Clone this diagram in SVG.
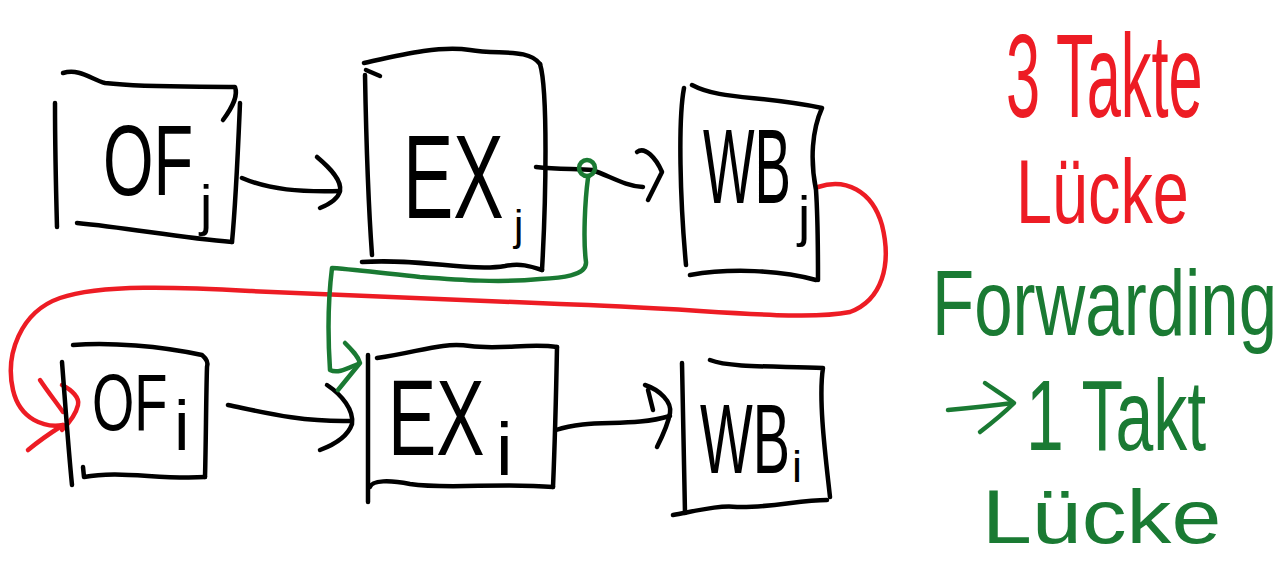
<svg xmlns="http://www.w3.org/2000/svg" width="1282" height="562" viewBox="0 0 1282 562">
<style>
.k{fill:none;stroke:#000;stroke-width:4.5;stroke-linecap:round;stroke-linejoin:round}
.r{fill:none;stroke:#ed1c24;stroke-width:4.5;stroke-linecap:round;stroke-linejoin:round}
.g{fill:none;stroke:#1a7a33;stroke-width:4.5;stroke-linecap:round;stroke-linejoin:round}
text{font-family:"Liberation Sans",Arial,sans-serif;fill:#000}
.rt{fill:#ed1c24}
.gt{fill:#1a7a33}
</style>
<rect width="1282" height="562" fill="#fff"/>

<g id="connectors">
  <!-- OF_j -> EX_j -->
  <path class="k" d="M242,178 C270,190 300,192 340,191"/>
  <path class="k" d="M317,157 C330,168 342,180 340,191 C338,199 330,204 320,208"/>
  <!-- EX_j -> WB_j -->
  <path class="k" d="M536,167 C560,170 580,168 592,170 C610,176 625,186 643,187"/>
  <path class="k" d="M637,152 C645,146 656,158 662,172 L648,200"/>
  <!-- OF_i -> EX_i -->
  <path class="k" d="M228,405 C262,412 300,422 350,421"/>
  <path class="k" d="M327,385 C342,395 354,410 352,424 C348,436 336,444 320,450"/>
  <!-- EX_i -> WB_i -->
  <path class="k" d="M556,430 C590,418 630,428 670,416"/>
  <path class="k" d="M645,385 C660,390 672,402 670,413 C668,425 662,437 657,447"/>
  <path class="k" d="M648,390 L653,410"/>
  <!-- red: WB_j -> OF_i -->
  <path class="r" d="M818,187 C845,178 872,190 882,225 C892,265 882,300 850,312 C800,322 700,308 560,304 C450,300 350,296 250,291 C180,287 100,284 60,298 C20,312 5,355 13,390 C20,420 45,428 63,425"/>
  <path class="r" d="M40,380 C48,392 56,402 63,412"/>
  <path class="r" d="M28,450 C40,440 52,432 63,425"/>
  <path class="r" d="M62,385 C72,390 80,398 78,405 C76,414 70,422 62,430"/>
  <!-- green: forwarding EX_j -> EX_i -->
  <circle class="g" cx="587" cy="168" r="8"/>
  <path class="g" d="M588,178 C585,200 583,240 586,262 C587,276 560,278 540,279 C500,283 460,280 420,277 C390,274 360,270 332,268 C328,300 328,340 330,370 C338,374 348,368 358,364"/>
  <path class="g" d="M345,343 C352,350 358,356 360,363 L338,390"/>
  <!-- green arrow in the note -->
  <path class="g" d="M948,410 C970,408 990,406 1013,403"/>
  <path class="g" d="M985,383 C995,390 1005,396 1014,403 C1005,412 993,422 980,432"/>
</g>

<g id="OFj">
  <path class="k" d="M63,73 C80,68 92,80 105,83 C150,88 200,86 235,87 C238,95 234,105 223,120"/>
  <path class="k" d="M240,103 C238,150 236,200 232,242"/>
  <path class="k" d="M55,103 C55,150 56,190 57,227"/>
  <path class="k" d="M77,223 C130,228 180,238 232,242"/>
  <text transform="translate(103,195) scale(0.65,1)" font-size="100">OF</text>
  <text x="200" y="224" font-size="55">j</text>
</g>

<g id="EXj">
  <path class="k" d="M364,63 C400,55 440,45 470,50 C500,55 528,48 540,64"/>
  <path class="k" d="M366,70 L380,76"/>
  <path class="k" d="M365,75 C366,130 368,200 372,255"/>
  <path class="k" d="M540,64 C548,90 546,200 542,270"/>
  <path class="k" d="M362,262 C420,258 470,272 505,266 C520,263 530,266 542,270"/>
  <text transform="translate(403,218) scale(0.64,1)" font-size="118">EX</text>
  <text x="514" y="240" font-size="42">j</text>
</g>

<g id="WBj">
  <path class="k" d="M684,88 C678,120 680,200 686,265"/>
  <path class="k" d="M692,85 C720,100 760,95 822,108 C812,130 810,160 816,190 C818,220 818,250 818,280"/>
  <path class="k" d="M690,275 C730,268 780,270 816,280"/>
  <text transform="translate(703,203) scale(0.52,1)" font-size="105">WB</text>
  <text x="798" y="235" font-size="55">j</text>
</g>

<g id="OFi">
  <path class="k" d="M62,362 C65,400 68,445 72,485"/>
  <path class="k" d="M73,345 C110,342 160,346 202,355 C208,360 208,364 207,367 C206,400 206,440 205,477"/>
  <path class="k" d="M83,467 L84,477 C120,470 160,480 205,477"/>
  <text transform="translate(92,430) scale(0.68,1)" font-size="80">OF</text>
  <text x="174" y="450" font-size="70">i</text>
</g>

<g id="EXi">
  <path class="k" d="M368,355 L368,502"/>
  <path class="k" d="M377,358 C420,352 440,342 470,346 C500,350 530,343 557,347"/>
  <path class="k" d="M557,347 C556,400 555,440 553,487"/>
  <path class="k" d="M370,487 C372,480 390,480 410,484 C450,490 500,482 553,487"/>
  <text transform="translate(388,455) scale(0.67,1)" font-size="108">EX</text>
  <text x="496" y="475" font-size="75">i</text>
</g>

<g id="WBi">
  <path class="k" d="M682,363 C683,420 684,470 685,513"/>
  <path class="k" d="M710,360 C730,368 780,366 823,368 C818,400 826,460 830,497"/>
  <path class="k" d="M673,515 C700,510 720,505 737,507 C770,508 800,500 827,500"/>
  <text transform="translate(700,473) scale(0.57,1)" font-size="98">WB</text>
  <text x="792" y="482" font-size="45">i</text>
</g>

<g id="note-red">
  <text class="rt" transform="translate(1006,117) scale(0.52,1)" font-size="118">3 Takte</text>
  <text class="rt" transform="translate(1016,223) scale(0.72,1)" font-size="90">Lücke</text>
</g>

<g id="note-green">
  <text class="gt" transform="translate(932,335) scale(0.75,1)" font-size="92">Forwarding</text>
  <text class="gt" transform="translate(1026,450) scale(0.68,1)" font-size="100">1 Takt</text>
  <text class="gt" transform="translate(982,543) scale(1.18,1)" font-size="76">Lücke</text>
</g>
</svg>
